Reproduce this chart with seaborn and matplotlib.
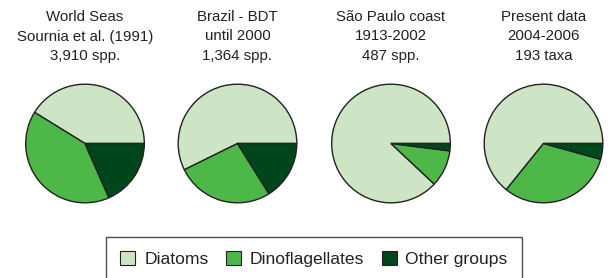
import matplotlib
matplotlib.use('Agg')
import matplotlib.pyplot as plt
import seaborn as sns
from matplotlib.patches import Patch

# ── DATA (proportions, %) ───────────────────────────────────────
titles = [
    'World Seas\nSournia et al. (1991)\n3,910 spp.',
    'Brazil - BDT\nuntil 2000\n1,364 spp.',
    'São Paulo coast\n1913-2002\n487 spp.',
    'Present data\n2004-2006\n193 taxa',
]
groups = ['Diatoms', 'Dinoflagellates', 'Other groups']
diatoms = [41.2, 57.3, 88.0, 64.2]
dinoflagellates = [40.4, 26.6, 10.0, 31.5]
other_groups = [18.4, 16.1, 2.0, 4.3]

sns.set_theme(style='white')
plt.rcParams['font.family'] = ['Liberation Sans', 'DejaVu Sans']
colors = sns.color_palette(['#cde5c5', '#4db848', '#00461c'])

W, H = 613, 278
fig = plt.figure(figsize=(W / 100, H / 100), dpi=100)

centers_x = [85, 237.5, 391, 543.5]
cy, r = 143.5, 60.5

for i, cx in enumerate(centers_x):
    ax = fig.add_axes([(cx - r) / W, (H - cy - r) / H, 2 * r / W, 2 * r / H])
    vals = [diatoms[i], dinoflagellates[i], other_groups[i]]
    ax.pie(vals, colors=colors, startangle=0, counterclock=True,
           wedgeprops=dict(edgecolor='#222222', linewidth=1.0))
    ax.set_aspect('equal')
    ax.set_xlim(-1.02, 1.02)
    ax.set_ylim(-1.02, 1.02)
    fig.text(cx / W, 1 - 10 / H, titles[i], ha='center', va='top',
             fontsize=10.8, linespacing=1.5, color='#222222')

handles = [Patch(facecolor=c, edgecolor='#222222', linewidth=0.8) for c in colors]
leg = fig.legend(handles, groups, ncol=3, loc='upper center',
                 bbox_to_anchor=(314 / W, 1 - 236.5 / H), frameon=True,
                 fancybox=False, edgecolor='#222222', fontsize=12.6,
                 handlelength=0.86, handleheight=0.86, handletextpad=0.5,
                 columnspacing=1.0, borderpad=0.8, borderaxespad=0)
leg.get_frame().set_linewidth(1.0)
for t in leg.get_texts():
    t.set_color('#222222')

fig.savefig('out.png', dpi=100)
